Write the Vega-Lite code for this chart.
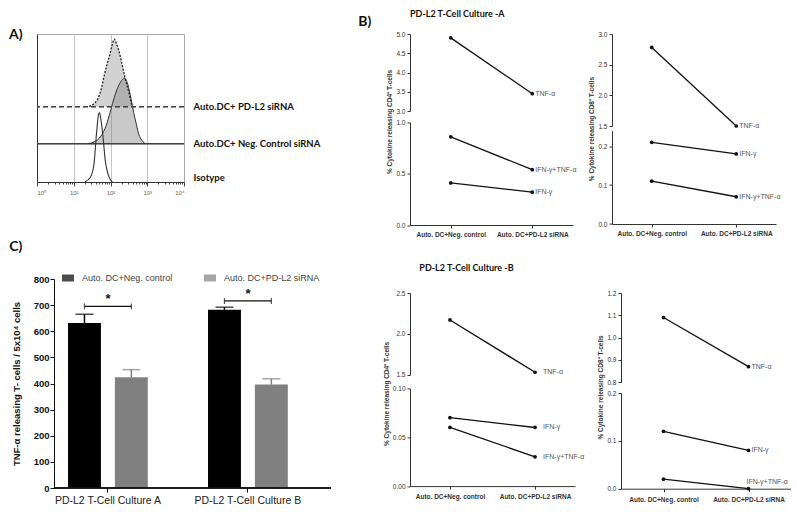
{
  "$schema": "https://vega.github.io/schema/vega-lite/v6.json",
  "background": "white",
  "padding": {"left": 8, "top": 0, "right": 0, "bottom": 0},
  "datasets": {
    "hist": [
      {"series": "Isotype", "x": 20.0, "y": 0},
      {"series": "Isotype", "x": 28.2, "y": 3},
      {"series": "Isotype", "x": 35.5, "y": 12},
      {"series": "Isotype", "x": 41.7, "y": 33},
      {"series": "Isotype", "x": 46.8, "y": 45},
      {"series": "Isotype", "x": 50.1, "y": 47},
      {"series": "Isotype", "x": 55.0, "y": 42},
      {"series": "Isotype", "x": 61.7, "y": 32},
      {"series": "Isotype", "x": 72.4, "y": 14},
      {"series": "Isotype", "x": 89.1, "y": 4},
      {"series": "Isotype", "x": 112.2, "y": 0},
      {"series": "Neg", "x": 25.1, "y": 26},
      {"series": "Neg", "x": 35.5, "y": 27},
      {"series": "Neg", "x": 55.0, "y": 31},
      {"series": "Neg", "x": 75.9, "y": 38},
      {"series": "Neg", "x": 102.3, "y": 49},
      {"series": "Neg", "x": 125.9, "y": 57},
      {"series": "Neg", "x": 158.5, "y": 64},
      {"series": "Neg", "x": 199.5, "y": 68.5},
      {"series": "Neg", "x": 245.5, "y": 70},
      {"series": "Neg", "x": 295.1, "y": 66},
      {"series": "Neg", "x": 363.1, "y": 56},
      {"series": "Neg", "x": 426.6, "y": 47},
      {"series": "Neg", "x": 489.8, "y": 40.5},
      {"series": "Neg", "x": 575.4, "y": 33},
      {"series": "Neg", "x": 676.1, "y": 29},
      {"series": "Neg", "x": 871.0, "y": 26},
      {"series": "PDL2", "x": 26.3, "y": 51},
      {"series": "PDL2", "x": 35.5, "y": 53},
      {"series": "PDL2", "x": 44.7, "y": 56},
      {"series": "PDL2", "x": 56.2, "y": 63},
      {"series": "PDL2", "x": 67.6, "y": 72},
      {"series": "PDL2", "x": 81.3, "y": 80},
      {"series": "PDL2", "x": 93.3, "y": 85},
      {"series": "PDL2", "x": 109.6, "y": 92},
      {"series": "PDL2", "x": 125.9, "y": 96.6},
      {"series": "PDL2", "x": 147.9, "y": 93},
      {"series": "PDL2", "x": 173.8, "y": 87.6},
      {"series": "PDL2", "x": 204.2, "y": 80},
      {"series": "PDL2", "x": 239.9, "y": 72},
      {"series": "PDL2", "x": 275.4, "y": 66},
      {"series": "PDL2", "x": 316.2, "y": 60.6},
      {"series": "PDL2", "x": 354.8, "y": 55},
      {"series": "PDL2", "x": 398.1, "y": 51}
    ],
    "bars": [
      {"group": "PD-L2 T-Cell Culture A", "series": "Auto. DC+Neg. control", "value": 632, "upper": 665},
      {"group": "PD-L2 T-Cell Culture A", "series": "Auto. DC+PD-L2 siRNA", "value": 424, "upper": 453},
      {"group": "PD-L2 T-Cell Culture B", "series": "Auto. DC+Neg. control", "value": 682, "upper": 692},
      {"group": "PD-L2 T-Cell Culture B", "series": "Auto. DC+PD-L2 siRNA", "value": 396, "upper": 418}
    ],
    "sig": [
      {"group": "PD-L2 T-Cell Culture A", "y": 695},
      {"group": "PD-L2 T-Cell Culture B", "y": 716}
    ],
    "b": [
      {"panel": "A4", "series": "TNF-α", "cond": "Auto. DC+Neg. control", "value": 4.9},
      {"panel": "A4", "series": "TNF-α", "cond": "Auto. DC+PD-L2 siRNA", "value": 3.45},
      {"panel": "A4", "series": "IFN-γ+TNF-α", "cond": "Auto. DC+Neg. control", "value": 0.86},
      {"panel": "A4", "series": "IFN-γ+TNF-α", "cond": "Auto. DC+PD-L2 siRNA", "value": 0.54},
      {"panel": "A4", "series": "IFN-γ", "cond": "Auto. DC+Neg. control", "value": 0.41},
      {"panel": "A4", "series": "IFN-γ", "cond": "Auto. DC+PD-L2 siRNA", "value": 0.32},
      {"panel": "A8", "series": "TNF-α", "cond": "Auto. DC+Neg. control", "value": 2.78},
      {"panel": "A8", "series": "TNF-α", "cond": "Auto. DC+PD-L2 siRNA", "value": 1.5},
      {"panel": "A8", "series": "IFN-γ", "cond": "Auto. DC+Neg. control", "value": 0.21},
      {"panel": "A8", "series": "IFN-γ", "cond": "Auto. DC+PD-L2 siRNA", "value": 0.18},
      {"panel": "A8", "series": "IFN-γ+TNF-α", "cond": "Auto. DC+Neg. control", "value": 0.11},
      {"panel": "A8", "series": "IFN-γ+TNF-α", "cond": "Auto. DC+PD-L2 siRNA", "value": 0.07},
      {"panel": "B4", "series": "TNF-α", "cond": "Auto. DC+Neg. control", "value": 2.17},
      {"panel": "B4", "series": "TNF-α", "cond": "Auto. DC+PD-L2 siRNA", "value": 1.53},
      {"panel": "B4", "series": "IFN-γ", "cond": "Auto. DC+Neg. control", "value": 0.07},
      {"panel": "B4", "series": "IFN-γ", "cond": "Auto. DC+PD-L2 siRNA", "value": 0.06},
      {"panel": "B4", "series": "IFN-γ+TNF-α", "cond": "Auto. DC+Neg. control", "value": 0.06},
      {"panel": "B4", "series": "IFN-γ+TNF-α", "cond": "Auto. DC+PD-L2 siRNA", "value": 0.03},
      {"panel": "B8", "series": "TNF-α", "cond": "Auto. DC+Neg. control", "value": 1.09},
      {"panel": "B8", "series": "TNF-α", "cond": "Auto. DC+PD-L2 siRNA", "value": 0.87},
      {"panel": "B8", "series": "IFN-γ", "cond": "Auto. DC+Neg. control", "value": 0.12},
      {"panel": "B8", "series": "IFN-γ", "cond": "Auto. DC+PD-L2 siRNA", "value": 0.08},
      {"panel": "B8", "series": "IFN-γ+TNF-α", "cond": "Auto. DC+Neg. control", "value": 0.02},
      {"panel": "B8", "series": "IFN-γ+TNF-α", "cond": "Auto. DC+PD-L2 siRNA", "value": 0.0}
    ]
  },
  "spacing": 26,
  "resolve": {"legend": {"color": "independent"}, "scale": {"color": "independent"}},
  "hconcat": [
    {
      "spacing": 44,
      "align": "none",
      "resolve": {"legend": {"color": "independent"}, "scale": {"color": "independent"}},
      "vconcat": [
        {
          "width": 147,
          "height": 148,
          "view": {"stroke": "#aaa"},
          "title": {"text": ["", "A)"], "anchor": "start", "frame": "group", "dx": -28, "offset": -22, "baseline": "bottom", "lineHeight": 27, "fontSize": 14, "font": "Lato", "fontWeight": "bold", "color": "#111"},
          "data": {"name": "hist"},
          "resolve": {"axis": {"y": "independent"}},
          "layer": [
            {
              "encoding": {
                "x": {"field": "x", "type": "quantitative", "scale": {"type": "log", "domain": [1, 10000], "nice": false},
                  "axis": {"title": null, "values": [1,2,3,4,5,6,7,8,9,10,20,30,40,50,60,70,80,90,100,200,300,400,500,600,700,800,900,1000,2000,3000,4000,5000,6000,7000,8000,9000,10000],
                    "labelExpr": "datum.value==1?'10⁰':datum.value==10?'10¹':datum.value==100?'10²':datum.value==1000?'10³':datum.value==10000?'10⁴':''",
                    "labelOverlap": false, "labelFontSize": 6, "labelColor": "#666", "labelPadding": 3,
                    "tickSize": {"condition": {"test": "datum.value==1||datum.value==10||datum.value==100||datum.value==1000||datum.value==10000", "value": 4}, "value": 2},
                    "tickColor": "#444", "domainColor": "#333",
                    "grid": true,
                    "gridColor": {"condition": {"test": "datum.value==10||datum.value==100||datum.value==1000", "value": "#c4c4c4"}, "value": null}}},
                "y": {"field": "y", "type": "quantitative", "scale": {"domain": [0, 100], "nice": false},
                  "axis": {"title": null, "labels": false, "ticks": false, "grid": false, "domainColor": "#333", "minExtent": 0, "maxExtent": 0}}
              },
              "layer": [
                {"transform": [{"filter": "datum.series=='PDL2'"}], "mark": {"type": "area", "interpolate": "monotone", "color": "#d2d2d2"}, "encoding": {"y2": {"datum": 51}}},
                {"transform": [{"filter": "datum.series=='Neg'"}], "mark": {"type": "area", "interpolate": "monotone", "color": "#888", "fillOpacity": 0.45}, "encoding": {"y2": {"datum": 26}}},
                {"mark": {"type": "rule", "color": "#444", "strokeWidth": 1}, "encoding": {"y": {"datum": 26}, "x": null}},
                {"transform": [{"filter": "datum.series=='Neg'"}], "mark": {"type": "line", "interpolate": "monotone", "color": "#333", "strokeWidth": 1}},
                {"transform": [{"filter": "datum.series=='PDL2'"}], "mark": {"type": "line", "interpolate": "monotone", "color": "#222", "strokeWidth": 1.3, "strokeDash": [2, 1.5]}},
                {"transform": [{"filter": "datum.series=='Isotype'"}], "mark": {"type": "line", "interpolate": "monotone", "color": "#333", "strokeWidth": 1.1}}
              ]
            },
            {
              "mark": {"type": "rule", "color": "#444", "strokeWidth": 1, "strokeDash": [5, 3]},
              "encoding": {
                "y": {"datum": 51, "type": "quantitative", "scale": {"domain": [0, 100], "nice": false},
                  "axis": {"orient": "right", "title": null, "values": [51, 26, 3], "minExtent": 0,
                    "labelExpr": "datum.value==51?'Auto.DC+ PD-L2 siRNA':datum.value==26?'Auto.DC+ Neg. Control siRNA':datum.value==3?'Isotype':''",
                    "domain": false, "ticks": false, "grid": false, "labelPadding": 9, "labelFont": "Lato", "labelFontWeight": "bold", "labelFontSize": 9.5, "labelColor": "#111", "labelAlign": "left", "labelBaseline": "middle", "labelOverlap": false}}
              }
            }
          ]
        },
        {
          "width": 294,
          "height": 209,
          "title": {"text": "C)", "anchor": "start", "frame": "bounds", "dx": -2, "offset": 4, "baseline": "bottom", "fontSize": 14, "font": "Lato", "fontWeight": "bold", "color": "#111"},
          "data": {"name": "bars"},
          "encoding": {
            "x": {"field": "group", "type": "nominal", "scale": {"paddingInner": 0.43, "paddingOuter": 0.265, "align": 0.418},
              "axis": {"title": null, "labelAngle": 0, "labelFontSize": 10.5, "labelColor": "#222", "tickSize": 4, "tickColor": "#111", "domain": false, "labelPadding": 3}},
            "y": {"type": "quantitative", "scale": {"domain": [0, 800], "nice": false},
              "axis": {"title": "TNF-α releasing T- cells / 5x10⁴ cells", "offset": -17, "values": [0,100,200,300,400,500,600,700,800], "labelFontSize": 9.5, "labelFontWeight": "bold", "labelColor": "#111", "labelPadding": 1, "titleFontSize": 9.5, "titleFontWeight": "bold", "titleColor": "#111", "tickSize": 4, "tickColor": "#111", "domainColor": "#111", "grid": false, "titlePadding": 12}}
          },
          "layer": [
            {"mark": {"type": "bar"},
              "encoding": {"xOffset": {"field": "series", "type": "nominal", "scale": {"paddingInner": 0.298, "paddingOuter": 0}},
                "y": {"field": "value", "type": "quantitative"},
                "color": {"field": "series", "type": "nominal", "scale": {"domain": ["Auto. DC+Neg. control", "Auto. DC+PD-L2 siRNA"], "range": ["#000000", "#808080"]},
                  "legend": {"orient": "none", "legendX": 25, "legendY": -7, "direction": "horizontal", "title": null, "symbolType": "M-1,-0.58L1,-0.58L1,0.58L-1,0.58Z", "symbolSize": 144, "symbolStrokeWidth": 0, "labelFontSize": 9, "labelColor": "#444", "columnPadding": 31, "labelOffset": 8}}}},
            {"mark": {"type": "rule", "color": "#111", "strokeWidth": 1},
              "encoding": {"x": {"datum": "PD-L2 T-Cell Culture A", "type": "nominal", "bandPosition": -0.175}, "x2": {"datum": "PD-L2 T-Cell Culture B", "bandPosition": 1.54}, "y": {"datum": 0, "type": "quantitative"}}},
            {"mark": {"type": "rule", "strokeWidth": 1.5},
              "encoding": {"xOffset": {"field": "series", "type": "nominal"}, "y": {"field": "value", "type": "quantitative"}, "y2": {"field": "upper"}, "color": {"field": "series", "type": "nominal"}}},
            {"mark": {"type": "tick", "orient": "horizontal", "size": 18, "thickness": 1.5},
              "encoding": {"xOffset": {"field": "series", "type": "nominal"}, "y": {"field": "upper", "type": "quantitative"}, "color": {"field": "series", "type": "nominal"}}},
            {"data": {"name": "sig"}, "mark": {"type": "rule", "color": "#111", "strokeWidth": 1.2},
              "encoding": {"x": {"field": "group", "type": "nominal", "bandPosition": 0.206}, "x2": {"field": "group", "bandPosition": 0.794}, "y": {"field": "y", "type": "quantitative"}}},
            {"data": {"name": "sig"}, "mark": {"type": "tick", "orient": "vertical", "size": 6, "thickness": 1.2, "color": "#111"},
              "encoding": {"x": {"field": "group", "type": "nominal", "bandPosition": 0.206}, "y": {"field": "y", "type": "quantitative"}}},
            {"data": {"name": "sig"}, "mark": {"type": "tick", "orient": "vertical", "size": 6, "thickness": 1.2, "color": "#111"},
              "encoding": {"x": {"field": "group", "type": "nominal", "bandPosition": 0.794}, "y": {"field": "y", "type": "quantitative"}}},
            {"data": {"name": "sig"}, "mark": {"type": "text", "dy": -7, "fontSize": 13, "fontWeight": "bold", "color": "#111"},
              "encoding": {"y": {"field": "y", "type": "quantitative"}, "text": {"value": "*"}}}
          ]
        }
      ]
    },
    {
      "data": {"name": "b"},
      "title": {"text": "B)", "anchor": "start", "frame": "bounds", "dx": -25, "offset": -33, "baseline": "bottom", "fontSize": 14, "font": "Lato", "fontWeight": "bold", "color": "#111"},
      "spacing": 26,
      "vconcat": [
        {
          "spacing": 11,
          "hconcat": [
            {
              "title": {"text": "PD-L2 T-Cell Culture -A", "anchor": "start", "dx": 23, "offset": 3, "baseline": "bottom", "fontSize": 9, "font": "Lato", "fontWeight": "bold", "color": "#111"},
              "bounds": "flush",
              "spacing": 11.5,
              "vconcat": [
                {
                  "width": 163, "height": 77,
                  "transform": [{"filter": "datum.panel=='A4' && datum.series=='TNF-α'"}],
                  "encoding": {
                    "x": {"field": "cond", "type": "nominal", "scale": {"type": "point", "padding": 0.5, "domain": ["Auto. DC+Neg. control", "Auto. DC+PD-L2 siRNA"]}, "axis": null},
                    "y": {"field": "value", "type": "quantitative", "scale": {"domain": [3, 5], "nice": false, "zero": false},
                      "axis": {"title": null, "values": [3, 3.5, 4, 4.5, 5], "format": ".1f", "labelFontSize": 6.5, "labelColor": "#333", "tickSize": 3, "domainColor": "#333", "tickColor": "#333", "grid": false}}
                  },
                  "layer": [
                    {"mark": {"type": "line", "color": "#111", "strokeWidth": 1.3}},
                    {"mark": {"type": "circle", "color": "#111", "size": 14, "opacity": 1}},
                    {"transform": [{"filter": "datum.cond=='Auto. DC+PD-L2 siRNA'"}], "mark": {"type": "text", "align": "left", "baseline": "middle", "dx": 3, "fontSize": 7, "color": "#555"}, "encoding": {"text": {"field": "series"}}}
                  ]
                },
                {
                  "width": 163, "height": 102.5,
                  "transform": [{"filter": "datum.panel=='A4' && datum.series!='TNF-α'"}],
                  "encoding": {
                    "x": {"field": "cond", "type": "nominal", "scale": {"type": "point", "padding": 0.5, "domain": ["Auto. DC+Neg. control", "Auto. DC+PD-L2 siRNA"]},
                      "axis": {"title": null, "labelAngle": 0, "labelFontSize": 6.5, "labelFontWeight": "bold", "labelColor": "#333", "tickSize": 3, "domainColor": "#333", "tickColor": "#333", "labelPadding": 3}},
                    "y": {"field": "value", "type": "quantitative", "scale": {"domain": [0, 1], "nice": false},
                      "axis": {"title": "% Cytokine releasing CD4⁺ T-cells", "titleY": -1, "titlePadding": 3, "titleFontSize": 6.5, "titleFontWeight": "bold", "titleColor": "#333", "values": [0, 0.5, 1], "format": ".1f", "labelFontSize": 6.5, "labelColor": "#333", "tickSize": 3, "domainColor": "#333", "tickColor": "#333", "grid": false}}
                  },
                  "layer": [
                    {"mark": {"type": "line", "color": "#111", "strokeWidth": 1.3}, "encoding": {"detail": {"field": "series"}}},
                    {"mark": {"type": "circle", "color": "#111", "size": 14, "opacity": 1}},
                    {"transform": [{"filter": "datum.cond=='Auto. DC+PD-L2 siRNA'"}], "mark": {"type": "text", "align": "left", "baseline": "middle", "dx": 3, "fontSize": 7, "color": "#555"}, "encoding": {"text": {"field": "series"}}}
                  ]
                }
              ]
            },
            {
              "bounds": "flush",
              "spacing": 4.6,
              "vconcat": [
                {
                  "width": 164, "height": 92,
                  "transform": [{"filter": "datum.panel=='A8' && datum.series=='TNF-α'"}],
                  "encoding": {
                    "x": {"field": "cond", "type": "nominal", "scale": {"type": "point", "padding": 0.47, "domain": ["Auto. DC+Neg. control", "Auto. DC+PD-L2 siRNA"]}, "axis": null},
                    "y": {"field": "value", "type": "quantitative", "scale": {"domain": [1.5, 3], "nice": false, "zero": false},
                      "axis": {"title": null, "values": [1.5, 2, 2.5, 3], "format": ".1f", "labelFontSize": 6.5, "labelColor": "#333", "tickSize": 3, "domainColor": "#333", "tickColor": "#333", "grid": false}}
                  },
                  "layer": [
                    {"mark": {"type": "line", "color": "#111", "strokeWidth": 1.3}},
                    {"mark": {"type": "circle", "color": "#111", "size": 14, "opacity": 1}},
                    {"transform": [{"filter": "datum.cond=='Auto. DC+PD-L2 siRNA'"}], "mark": {"type": "text", "align": "left", "baseline": "middle", "dx": 3, "fontSize": 7, "color": "#555"}, "encoding": {"text": {"field": "series"}}}
                  ]
                },
                {
                  "width": 164, "height": 93.4,
                  "transform": [{"filter": "datum.panel=='A8' && datum.series!='TNF-α'"}],
                  "encoding": {
                    "x": {"field": "cond", "type": "nominal", "scale": {"type": "point", "padding": 0.47, "domain": ["Auto. DC+Neg. control", "Auto. DC+PD-L2 siRNA"]},
                      "axis": {"title": null, "labelAngle": 0, "labelFontSize": 6.5, "labelFontWeight": "bold", "labelColor": "#333", "tickSize": 3, "domainColor": "#333", "tickColor": "#333", "labelPadding": 3}},
                    "y": {"field": "value", "type": "quantitative", "scale": {"domain": [0, 0.24], "nice": false},
                      "axis": {"title": "% Cytokine releasing CD8⁺ T-cells", "titleY": -2, "titlePadding": 3, "titleFontSize": 6.5, "titleFontWeight": "bold", "titleColor": "#333", "values": [0, 0.1, 0.2], "format": ".1f", "labelFontSize": 6.5, "labelColor": "#333", "tickSize": 3, "domainColor": "#333", "tickColor": "#333", "grid": false}}
                  },
                  "layer": [
                    {"mark": {"type": "line", "color": "#111", "strokeWidth": 1.3}, "encoding": {"detail": {"field": "series"}}},
                    {"mark": {"type": "circle", "color": "#111", "size": 14, "opacity": 1}},
                    {"transform": [{"filter": "datum.cond=='Auto. DC+PD-L2 siRNA'"}], "mark": {"type": "text", "align": "left", "baseline": "middle", "dx": 3, "fontSize": 7, "color": "#555"}, "encoding": {"text": {"field": "series"}}}
                  ]
                }
              ]
            }
          ]
        },
        {
          "spacing": 12,
          "hconcat": [
            {
              "title": {"text": "PD-L2 T-Cell Culture -B", "anchor": "start", "dx": 36, "offset": 8, "baseline": "bottom", "fontSize": 9, "font": "Lato", "fontWeight": "bold", "color": "#111"},
              "bounds": "flush",
              "spacing": 13.4,
              "vconcat": [
                {
                  "width": 165, "height": 81.7,
                  "transform": [{"filter": "datum.panel=='B4' && datum.series=='TNF-α'"}],
                  "encoding": {
                    "x": {"field": "cond", "type": "nominal", "scale": {"type": "point", "padding": 0.47, "domain": ["Auto. DC+Neg. control", "Auto. DC+PD-L2 siRNA"]}, "axis": null},
                    "y": {"field": "value", "type": "quantitative", "scale": {"domain": [1.5, 2.5], "nice": false, "zero": false},
                      "axis": {"title": null, "values": [1.5, 2, 2.5], "format": ".1f", "labelFontSize": 6.5, "labelColor": "#333", "tickSize": 3, "domainColor": "#333", "tickColor": "#333", "grid": false}}
                  },
                  "layer": [
                    {"mark": {"type": "line", "color": "#111", "strokeWidth": 1.3}},
                    {"mark": {"type": "circle", "color": "#111", "size": 14, "opacity": 1}},
                    {"transform": [{"filter": "datum.cond=='Auto. DC+PD-L2 siRNA'"}], "mark": {"type": "text", "align": "left", "baseline": "middle", "dx": 8, "fontSize": 7, "color": "#555"}, "encoding": {"text": {"field": "series"}}}
                  ]
                },
                {
                  "width": 165, "height": 97.7,
                  "transform": [{"filter": "datum.panel=='B4' && datum.series!='TNF-α'"}],
                  "encoding": {
                    "x": {"field": "cond", "type": "nominal", "scale": {"type": "point", "padding": 0.47, "domain": ["Auto. DC+Neg. control", "Auto. DC+PD-L2 siRNA"]},
                      "axis": {"title": null, "labelAngle": 0, "labelFontSize": 6.5, "labelFontWeight": "bold", "labelColor": "#333", "tickSize": 3, "domainColor": "#333", "tickColor": "#333", "labelPadding": 4}},
                    "y": {"field": "value", "type": "quantitative", "scale": {"domain": [0, 0.1], "nice": false},
                      "axis": {"title": "% Cytokine releasing CD4⁺ T-cells", "titleY": 5, "titlePadding": 3, "titleFontSize": 6.5, "titleFontWeight": "bold", "titleColor": "#333", "values": [0, 0.05, 0.1], "format": ".2f", "labelFontSize": 6.5, "labelColor": "#333", "tickSize": 3, "domainColor": "#333", "tickColor": "#333", "grid": false}}
                  },
                  "layer": [
                    {"mark": {"type": "line", "color": "#111", "strokeWidth": 1.3}, "encoding": {"detail": {"field": "series"}}},
                    {"mark": {"type": "circle", "color": "#111", "size": 14, "opacity": 1}},
                    {"transform": [{"filter": "datum.cond=='Auto. DC+PD-L2 siRNA'"}], "mark": {"type": "text", "align": "left", "baseline": "middle", "dx": 8, "fontSize": 7, "color": "#555"}, "encoding": {"text": {"field": "series"}}}
                  ]
                }
              ]
            },
            {
              "bounds": "flush",
              "spacing": 10,
              "vconcat": [
                {
                  "width": 170, "height": 89.3,
                  "transform": [{"filter": "datum.panel=='B8' && datum.series=='TNF-α'"}],
                  "encoding": {
                    "x": {"field": "cond", "type": "nominal", "scale": {"type": "point", "padding": 0.5, "domain": ["Auto. DC+Neg. control", "Auto. DC+PD-L2 siRNA"]}, "axis": null},
                    "y": {"field": "value", "type": "quantitative", "scale": {"domain": [0.8, 1.2], "nice": false, "zero": false},
                      "axis": {"title": null, "values": [0.8, 0.9, 1.0, 1.1, 1.2], "format": ".1f", "labelFontSize": 6.5, "labelColor": "#333", "tickSize": 3, "domainColor": "#333", "tickColor": "#333", "grid": false}}
                  },
                  "layer": [
                    {"mark": {"type": "line", "color": "#111", "strokeWidth": 1.3}},
                    {"mark": {"type": "circle", "color": "#111", "size": 14, "opacity": 1}},
                    {"transform": [{"filter": "datum.cond=='Auto. DC+PD-L2 siRNA'"}], "mark": {"type": "text", "align": "left", "baseline": "middle", "dx": 3, "fontSize": 7, "color": "#555"}, "encoding": {"text": {"field": "series"}}}
                  ]
                },
                {
                  "width": 170, "height": 95.7,
                  "transform": [{"filter": "datum.panel=='B8' && datum.series!='TNF-α'"}],
                  "encoding": {
                    "x": {"field": "cond", "type": "nominal", "scale": {"type": "point", "padding": 0.5, "domain": ["Auto. DC+Neg. control", "Auto. DC+PD-L2 siRNA"]},
                      "axis": {"title": null, "labelAngle": 0, "labelFontSize": 6.5, "labelFontWeight": "bold", "labelColor": "#333", "tickSize": 3, "domainColor": "#333", "tickColor": "#333", "labelPadding": 5}},
                    "y": {"field": "value", "type": "quantitative", "scale": {"domain": [0, 0.2], "nice": false},
                      "axis": {"title": "% Cytokine releasing CD8⁺ T-cells", "titleY": -6, "titlePadding": 3, "titleFontSize": 6.5, "titleFontWeight": "bold", "titleColor": "#333", "values": [0, 0.1, 0.2], "format": ".1f", "labelFontSize": 6.5, "labelColor": "#333", "tickSize": 3, "domainColor": "#333", "tickColor": "#333", "grid": false}}
                  },
                  "layer": [
                    {"mark": {"type": "line", "color": "#111", "strokeWidth": 1.3}, "encoding": {"detail": {"field": "series"}}},
                    {"mark": {"type": "circle", "color": "#111", "size": 14, "opacity": 1}},
                    {"transform": [{"filter": "datum.cond=='Auto. DC+PD-L2 siRNA' && datum.series=='IFN-γ'"}], "mark": {"type": "text", "align": "left", "baseline": "middle", "dx": 3, "fontSize": 7, "color": "#555"}, "encoding": {"text": {"field": "series"}}},
                    {"transform": [{"filter": "datum.cond=='Auto. DC+PD-L2 siRNA' && datum.series=='IFN-γ+TNF-α'"}], "mark": {"type": "text", "align": "left", "baseline": "middle", "dx": -2, "dy": -7, "fontSize": 7, "color": "#555"}, "encoding": {"text": {"field": "series"}}}
                  ]
                }
              ]
            }
          ]
        }
      ]
    }
  ],
  "config": {
    "view": {"stroke": null},
    "font": "Liberation Sans",
    "axis": {"grid": false}
  }
}
